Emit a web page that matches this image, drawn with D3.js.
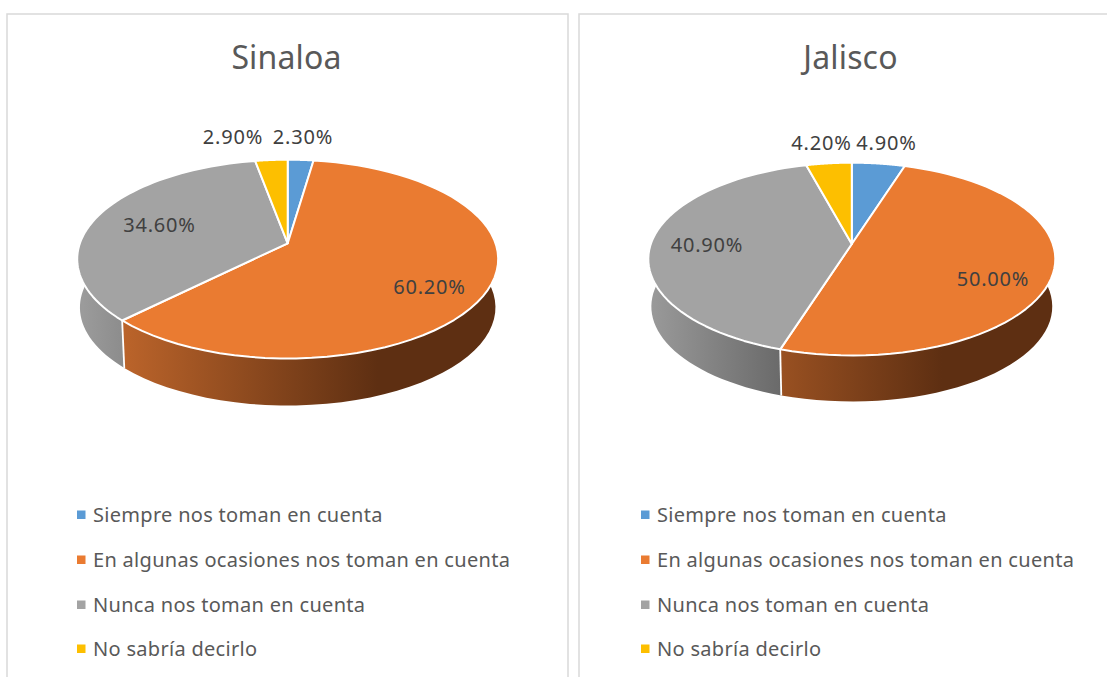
<!DOCTYPE html>
<html><head><meta charset="utf-8"><script src="https://cdn.jsdelivr.net/npm/d3@7"></script>
<style>html,body{margin:0;padding:0;background:#fff}svg{display:block}text{font-family:"Noto Sans",sans-serif}</style></head>
<body><svg id="c" width="1107" height="677"></svg>
<script>
const categories=["Siempre nos toman en cuenta","En algunas ocasiones nos toman en cuenta","Nunca nos toman en cuenta","No sabría decirlo"];
const sinaloaValues=[2.3,60.2,34.6,2.9];
const jaliscoValues=[4.9,50.0,40.9,4.2];
const chartTitles=["Sinaloa","Jalisco"];
const colors=["#5b9bd5","#ea7b31","#a3a3a3","#fdbf00"];

const panels=[
 {title:chartTitles[0],values:sinaloaValues,x:7,w:561,titleX:286.5,cx:287.7,cy:243.3,top:159.7,bottom:358.5,rx:210.5,f:.987,wallBottom:405.5,legendX:77,
  labels:[[303,137],[429.5,287],[159.5,225],[233,137]]},
 {title:chartTitles[1],values:jaliscoValues,x:579,w:540,titleX:850.5,cx:851.8,cy:244,top:162.7,bottom:355.5,rx:203.5,f:.985,wallBottom:401.5,legendX:641,
  labels:[[886.5,143],[993,279],[707,245],[821.5,143]]}
];
const legendY=[515,560,605,649];
const svg=d3.select("#c");
const defs=svg.append("defs");
panels.forEach((p,pi)=>{
  const g=svg.append("g");
  g.append("rect").attr("x",p.x).attr("y",14).attr("width",p.w).attr("height",700).attr("fill","#fff").attr("stroke","#d9d9d9").attr("stroke-width",1.5);
  g.append("text").attr("x",p.titleX).attr("y",69).attr("text-anchor","middle").attr("font-size",32).attr("letter-spacing",.15).attr("fill","#595959").text(p.title);

  // perspective projection of the disc
  const b1=p.cy-p.top,b2=p.bottom-p.cy,k=(b2-b1)/(b2+b1),b=b1*(1+k),a=p.rx*Math.sqrt(1-k*k);
  const d=p.wallBottom-p.cy-b2*p.f;
  const proj=(t,scale,dy)=>{const u=Math.sin(t),v=Math.cos(t),w=1+k*v;return [p.cx+scale*a*u/w,p.cy+dy-scale*b*v/w];};
  const line=d3.line();
  const arcPts=(s,e,scale,dy)=>d3.range(0,61).map(i=>proj(s+(e-s)*i/60,scale,dy));

  const pie=d3.pie().sort(null).value(v=>v);
  const arcs=pie(p.values);

  const grad=(id,x0,c0,x1,c1)=>{const l=defs.append("linearGradient").attr("id",id).attr("gradientUnits","userSpaceOnUse")
      .attr("x1",p.cx+x0).attr("x2",p.cx+x1).attr("y1",0).attr("y2",0);
      l.append("stop").attr("offset",0).attr("stop-color",c0);l.append("stop").attr("offset",1).attr("stop-color",c1);return `url(#${id})`;};
  const wallFill=[ "#3f6d99", grad("o"+pi,-170,"#bd652b",90,"#5e2f12"), grad("g"+pi,-205,"#9b9b9b",-71,"#6a6a6a"), "#b38600" ];

  // walls, back slices first
  [0,3,2,1].forEach(i=>{
    const s=arcs[i];
    const top=arcPts(s.startAngle,s.endAngle,1,0),bot=arcPts(s.endAngle,s.startAngle,p.f,d);
    g.append("path").attr("d",line(top.concat(bot))+"Z").attr("fill",wallFill[i]);
  });
  // white divider on the wall, at the front seam between slices
  arcs.forEach(s=>{
    const t=s.endAngle;
    if(Math.cos(t)<-0.2){
      g.append("path").attr("d",line([proj(t,1,0),proj(t,p.f,d)])).attr("stroke","#fff").attr("stroke-width",1.8).attr("fill","none");
    }
  });
  // top faces
  arcs.forEach((s,i)=>{
    g.append("path").attr("d",line([[p.cx,p.cy]].concat(arcPts(s.startAngle,s.endAngle,1,0)))+"Z")
      .attr("fill",colors[i]).attr("stroke","#fff").attr("stroke-width",2).attr("stroke-linejoin","round");
  });
  // data labels
  p.values.forEach((v,i)=>{
    g.append("text").attr("x",p.labels[i][0]).attr("y",p.labels[i][1]+7).attr("text-anchor","middle")
     .attr("font-size",20).attr("letter-spacing",.8).attr("fill","#404040").text(d3.format(".2f")(v)+"%");
  });
  // legend
  categories.forEach((c,i)=>{
    g.append("rect").attr("x",p.legendX).attr("y",legendY[i]-4.5).attr("width",8.5).attr("height",8.5).attr("fill",colors[i]);
    g.append("text").attr("x",p.legendX+16).attr("y",legendY[i]+7).attr("font-size",20).attr("letter-spacing",.3).attr("fill","#595959").text(c);
  });
});
</script></body></html>
